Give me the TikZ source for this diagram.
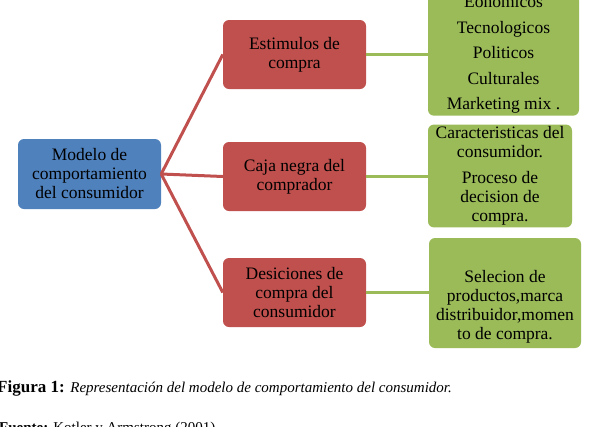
\documentclass[tikz,border=0pt]{standalone}
\usepackage{fontspec}
\setmainfont{Liberation Serif}
\definecolor{oblue}{HTML}{4F81BD}
\definecolor{ored}{HTML}{C0504D}
\definecolor{ogreen}{HTML}{9BBB59}
\tikzset{
  box/.style={rounded corners=6pt, inner sep=2pt, align=center, text=black,
    font=\fontsize{17.5}{19}\selectfont},
  bluebox/.style={box, fill=oblue, minimum width=143pt, minimum height=70pt},
  redbox/.style={box, fill=ored, minimum width=143pt, minimum height=69pt},
  greenbox/.style={box, fill=ogreen},
  redline/.style={draw=ored, line width=3pt},
  greenline/.style={draw=ogreen, line width=3pt},
}
\begin{document}
\begin{tikzpicture}[x=1pt,y=-1pt]
\useasboundingbox (0,0) rectangle (597,426);
\clip (0,0) rectangle (597,426);
% root
\node[bluebox] (root) at (89.5,174) {Modelo de\\comportamiento\\del consumidor};
% red
\node[redbox] (r1) at (294.5,54.5) {Estimulos de\\compra};
\node[redbox] (r2) at (294.5,176.5) {Caja negra del\\comprador};
\node[redbox] (r3) at (294.5,292.5) {Desiciones de\\compra del\\consumidor};
% green
\node[greenbox, minimum width=151pt, minimum height=121pt,
  font=\fontsize{17.5}{25.5}\selectfont] (g1) at (503.5,55)
  {Eonomicos\\Tecnologicos\\Politicos\\Culturales\\Marketing mix .};
\node[greenbox, minimum width=144pt, minimum height=94pt] (g2) at (500,176)
  {Caracteristicas del\\consumidor.\\[7pt]Proceso de\\decision de\\compra.};
\node[greenbox, minimum width=152pt, minimum height=110pt] (g3) at (505,293) {};
\node[align=center, font=\fontsize{17.5}{19}\selectfont, inner sep=0pt] (g3t) at (505,307)
  {Selecion de\\productos,marca\\distribuidor,momen\\to de compra.};
% connectors
\draw[redline] (root.east) -- (r1.west);
\draw[redline] (root.east) -- (r2.west);
\draw[redline] (root.east) -- (r3.west);
\draw[greenline] (r1.east) -- (g1.west |- r1.east);
\draw[greenline] (r2.east) -- (g2.west |- r2.east);
\draw[greenline] (r3.east) -- (g3.west |- r3.east);
% caption
\node[anchor=base west, inner sep=0pt] (cap) at (-3,392)
  {\fontsize{17}{19}\selectfont\bfseries Figura 1: \fontsize{15}{17}\selectfont\mdseries\itshape Representación del modelo de comportamiento del consumidor.};
\node[anchor=base west, inner sep=0pt] (src) at (-1,432)
  {\fontsize{15}{17}\selectfont\bfseries Fuente: \mdseries Kotler y Armstrong (2001)};
\end{tikzpicture}
\end{document}
